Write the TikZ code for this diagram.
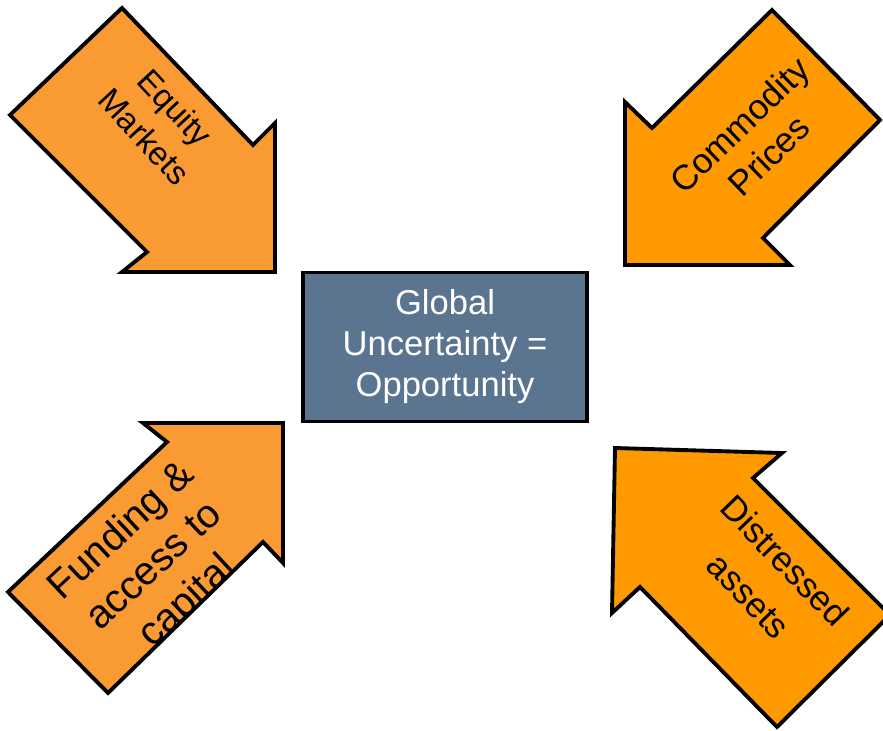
\documentclass[tikz,border=0pt]{standalone}
\usepackage{fontspec}
\setmainfont{Liberation Sans}
\usepackage{tikz}
\usetikzlibrary{positioning}
\definecolor{lightorange}{RGB}{250,154,51}
\definecolor{deeporange}{RGB}{255,153,0}
\definecolor{slate}{RGB}{91,116,144}
\tikzset{
    arrl/.style={
           draw=black, line width=3.3pt,
           fill=lightorange,
           line join=miter,
           },
}
\tikzset{
    arrr/.style={
           draw=black, line width=3.3pt,
           fill=deeporange,
           line join=miter,
           },
}
\tikzset{
    lbl/.style={
           align=center,
           inner sep=0pt,
           text=black,
           },
}
\tikzset{
    hub/.style={
           rectangle,
           draw=black, line width=3.3pt,
           fill=slate,
           text=white,
           align=center,
           minimum width=8.52cm,
           minimum height=4.47cm,
           font=\fontsize{29.5}{35}\selectfont,
           },
}

\begin{document}
\begin{tikzpicture}[x=0.03cm,y=-0.03cm]
\useasboundingbox (0,0) rectangle (883,731);
% centre box
\node[hub] (hub) at (445,347) {Global\\Uncertainty =\\Opportunity};
% equity markets, top left
\filldraw[arrl] (122,8) -- (253,145) -- (275,123) -- (275,272) -- (122,272) -- (147,252) -- (10,115) -- cycle;
\node[lbl, rotate=-47, font=\fontsize{28}{36}\selectfont] (equity) at (160,122) {Equity\\Markets};
% commodity prices, top right
\filldraw[arrr] (772,10) -- (880,120) -- (763,238) -- (790,265) -- (625,265) -- (625,102) -- (652,128) -- cycle;
\node[lbl, rotate=44, font=\fontsize{30}{36}\selectfont] (commodity) at (754,140) {Commodity\\Prices};
% funding, bottom left
\filldraw[arrl] (143,423) -- (283,423) -- (283,563) -- (263,542) -- (108,693) -- (8,592) -- (167,442) -- cycle;
\begin{scope}
\clip (143,423) -- (283,423) -- (283,563) -- (263,542) -- (108,693) -- (8,592) -- (167,442) -- cycle;
\node[lbl, rotate=43, font=\fontsize{34}{41}\selectfont] (funding) at (155,567) {Funding \&\\access to\\capital};
\end{scope}
% distressed assets, bottom right
\filldraw[arrr] (615,448) -- (782,453) -- (753,478) -- (890,615) -- (777,727) -- (640,587) -- (612,613) -- cycle;
\node[lbl, rotate=-46, font=\fontsize{30}{43}\selectfont] (distressed) at (767,578) {Distressed\\assets};
\end{tikzpicture}
\end{document}
